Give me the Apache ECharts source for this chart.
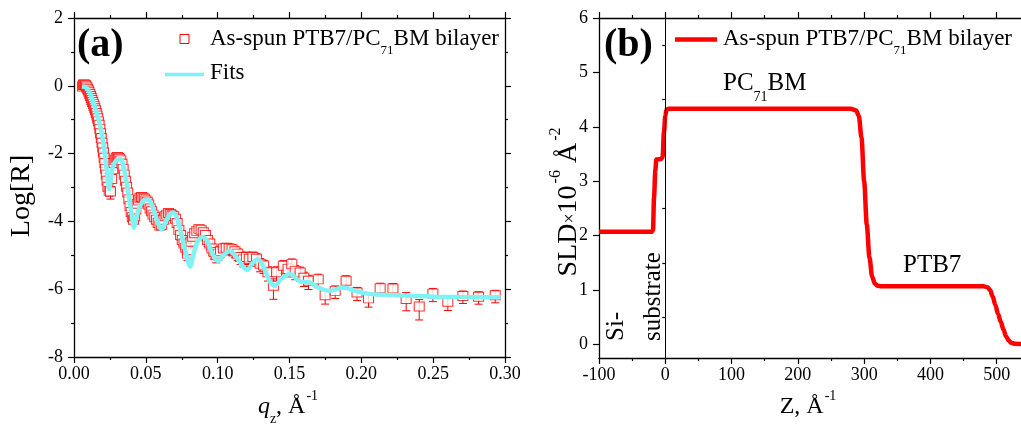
<!DOCTYPE html>
<html>
<head>
<meta charset="utf-8">
<script src="https://cdn.jsdelivr.net/npm/echarts@6/dist/echarts.min.js"></script>
<style>
  html, body { margin: 0; padding: 0; background: #fff; }
  #chart { width: 1021px; height: 425px; }
</style>
</head>
<body>
<div id="chart"></div>
<script>
// Reflectivity measurements: momentum transfer q_z (1/Å), log10(R), relative error of R
const qValues = [
  0.0060, 0.0065, 0.0070, 0.0075, 0.0080, 0.0085, 0.0090, 0.0095, 0.0100, 0.0105,
  0.0110, 0.0115, 0.0120, 0.0125, 0.0130, 0.0135, 0.0140, 0.0145, 0.0150, 0.0155,
  0.0160, 0.0165, 0.0170, 0.0175, 0.0180, 0.0185, 0.0190, 0.0195, 0.0200, 0.0205,
  0.0210, 0.0215, 0.0220, 0.0225, 0.0230, 0.0236, 0.0245, 0.0254, 0.0262, 0.0270,
  0.0278, 0.0286, 0.0294, 0.0302, 0.0310, 0.0318, 0.0326, 0.0334, 0.0342, 0.0350,
  0.0358, 0.0366, 0.0374, 0.0382, 0.0390, 0.0398, 0.0406, 0.0414, 0.0422, 0.0430,
  0.0440, 0.0450, 0.0460, 0.0470, 0.0480, 0.0490, 0.0500, 0.0510, 0.0520, 0.0530,
  0.0540, 0.0550, 0.0562, 0.0574, 0.0586, 0.0598, 0.0610, 0.0622, 0.0634, 0.0646,
  0.0658, 0.0670, 0.0682, 0.0694, 0.0706, 0.0718, 0.0730, 0.0742, 0.0754, 0.0766,
  0.0778, 0.0790, 0.0802, 0.0814, 0.0826, 0.0840, 0.0855, 0.0870, 0.0885, 0.0900,
  0.0915, 0.0930, 0.0945, 0.0960, 0.0975, 0.0990, 0.1005, 0.1020, 0.1040, 0.1060,
  0.1080, 0.1100, 0.1120, 0.1140, 0.1160, 0.1180, 0.1200, 0.1220, 0.1245, 0.1270,
  0.1295, 0.1320, 0.1350, 0.1388, 0.1410, 0.1457, 0.1490, 0.1516, 0.1540, 0.1574,
  0.1600, 0.1632, 0.1700, 0.1748, 0.1818, 0.1894, 0.1970, 0.2050, 0.2131, 0.2220,
  0.2312, 0.2403, 0.2498, 0.2602, 0.2707, 0.2816, 0.2932
];
const logR = [
  -0.02, 0.03, 0.04, 0.03, 0.02, -0.01, -0.05, -0.09, -0.14, -0.19,
  -0.24, -0.30, -0.36, -0.42, -0.48, -0.54, -0.60, -0.66, -0.72, -0.80,
  -0.88, -0.96, -1.05, -1.15, -1.27, -1.40, -1.54, -1.68, -1.82, -1.97,
  -2.12, -2.28, -2.45, -2.62, -2.80, -2.98, -3.10, -3.12, -2.75, -2.45,
  -2.28, -2.18, -2.12, -2.10, -2.12, -2.15, -2.20, -2.30, -2.45, -2.62,
  -2.80, -2.98, -3.15, -3.35, -3.55, -3.72, -3.88, -3.95, -3.85, -3.65,
  -3.48, -3.38, -3.30, -3.28, -3.30, -3.33, -3.38, -3.42, -3.50, -3.62,
  -3.70, -3.80, -3.88, -3.95, -4.05, -4.12, -4.10, -3.95, -3.85, -3.80,
  -3.75, -3.78, -3.82, -3.85, -3.92, -4.05, -4.25, -4.40, -4.55, -4.65,
  -4.78, -4.95, -4.85, -4.60, -4.45, -4.35, -4.28, -4.22, -4.25, -4.32,
  -4.40, -4.55, -4.65, -4.80, -4.90, -5.00, -4.95, -4.88, -4.80, -4.78,
  -4.80, -4.82, -4.88, -4.95, -5.05, -5.12, -5.05, -5.10, -5.05, -5.10,
  -5.25, -5.30, -5.50, -5.90, -5.50, -5.31, -5.40, -5.26, -5.46, -5.51,
  -5.66, -5.75, -5.71, -6.18, -6.05, -5.75, -6.10, -6.27, -5.97, -5.98,
  -6.29, -6.51, -6.13, -6.37, -6.20, -6.22, -6.18
];
const relErr = [
  0.03, 0.03, 0.03, 0.03, 0.03, 0.03, 0.03, 0.03, 0.03, 0.04,
  0.04, 0.04, 0.04, 0.04, 0.05, 0.05, 0.05, 0.05, 0.05, 0.05,
  0.06, 0.06, 0.06, 0.06, 0.06, 0.07, 0.07, 0.07, 0.08, 0.08,
  0.08, 0.09, 0.09, 0.10, 0.10, 0.12, 0.30, 0.40, 0.12, 0.10,
  0.10, 0.10, 0.10, 0.10, 0.10, 0.10, 0.10, 0.10, 0.12, 0.12,
  0.12, 0.14, 0.14, 0.15, 0.16, 0.18, 0.20, 0.22, 0.20, 0.18,
  0.16, 0.15, 0.15, 0.15, 0.15, 0.16, 0.16, 0.17, 0.18, 0.20,
  0.20, 0.22, 0.22, 0.24, 0.25, 0.26, 0.26, 0.25, 0.22, 0.22,
  0.22, 0.22, 0.24, 0.24, 0.25, 0.26, 0.28, 0.30, 0.32, 0.33,
  0.35, 0.38, 0.35, 0.32, 0.30, 0.30, 0.30, 0.30, 0.30, 0.32,
  0.33, 0.35, 0.35, 0.36, 0.38, 0.40, 0.38, 0.36, 0.35, 0.35,
  0.35, 0.36, 0.36, 0.38, 0.40, 0.40, 0.40, 0.40, 0.40, 0.40,
  0.42, 0.42, 0.45, 0.60, 0.45, 0.42, 0.42, 0.42, 0.45, 0.45,
  0.45, 0.45, 0.42, 0.45, 0.40, 0.40, 0.42, 0.45, 0.40, 0.40,
  0.55, 0.60, 0.42, 0.45, 0.40, 0.40, 0.40
];

// Model fit to the reflectivity
const fitQ = [
  0.0056, 0.0085, 0.0110, 0.0139, 0.0165, 0.0186, 0.0205, 0.0220, 0.0235, 0.0244,
  0.0255, 0.0270, 0.0295, 0.0325, 0.0350, 0.0380, 0.0405, 0.0418, 0.0430, 0.0460,
  0.0485, 0.0515, 0.0550, 0.0580, 0.0610, 0.0640, 0.0670, 0.0692, 0.0720, 0.0760,
  0.0795, 0.0808, 0.0830, 0.0860, 0.0895, 0.0930, 0.0970, 0.1005, 0.1040, 0.1086,
  0.1130, 0.1170, 0.1207, 0.1240, 0.1280, 0.1320, 0.1360, 0.1400, 0.1440, 0.1504,
  0.1550, 0.1580, 0.1640, 0.1700, 0.1780, 0.1875, 0.1960, 0.2040, 0.2150, 0.2270,
  0.2400, 0.2500, 0.2650, 0.2800, 0.2970
];
const fitLogR = [
  -0.02, -0.05, -0.20, -0.55, -0.90, -1.24, -1.70, -2.20, -2.75, -3.05,
  -2.80, -2.40, -2.20, -2.17, -2.50, -3.20, -3.90, -4.18, -3.95, -3.55,
  -3.38, -3.35, -3.60, -4.00, -4.24, -4.00, -3.78, -3.74, -3.95, -4.60,
  -5.20, -5.33, -5.00, -4.60, -4.45, -4.60, -5.00, -5.17, -5.00, -4.87,
  -5.05, -5.30, -5.43, -5.25, -5.12, -5.35, -5.75, -5.90, -5.70, -5.55,
  -5.70, -5.78, -5.80, -5.95, -6.05, -5.95, -6.05, -6.13, -6.16, -6.18,
  -6.20, -6.22, -6.23, -6.24, -6.24
];

// Scattering length density profile: depth Z (Å) and SLD (10^-6 Å^-2)
const zDepth = [
  -100, -20, -18.5, -17, -15, -13.5, -6, -4, -2, 0,
  2, 5, 280, 288, 292, 296, 300, 304, 308, 312,
  316, 320, 326, 480, 486, 490, 494, 498, 502, 506,
  510, 514, 518, 522, 528, 545
];
const sldValues = [
  2.07, 2.07, 2.10, 2.70, 3.20, 3.40, 3.41, 3.45, 3.90, 4.20,
  4.32, 4.33, 4.33, 4.30, 4.20, 3.80, 3.00, 2.20, 1.60, 1.25,
  1.12, 1.08, 1.07, 1.07, 1.05, 1.00, 0.88, 0.72, 0.56, 0.42,
  0.28, 0.15, 0.07, 0.03, 0.01, 0.00
];

// Axis tick positions for the SLD panel's value axis
const sldMajorTicks = [0, 1, 2, 3, 4, 5, 6];
const sldMinorTicks = [0.5, 1.5, 2.5, 3.5, 4.5, 5.5];

const RED = '#ff0000';
const CYAN = '#7ff3f3';
const SERIF = '"Liberation Serif", "DejaVu Serif", serif';

const points = qValues.map((q, i) => [q, logR[i]]);
const errBars = qValues.map((q, i) => [
  q, logR[i],
  logR[i] + Math.log10(1 + relErr[i]),
  logR[i] + Math.log10(1 - relErr[i])
]);
const fitLine = fitQ.map((q, i) => [q, fitLogR[i]]);
const sldLine = zDepth.map((z, i) => [z, sldValues[i]]);

const labelStyle = { color: '#000', fontFamily: SERIF, fontSize: 18 };
const lineStyle = { lineStyle: { color: '#000', width: 1.3 } };
const majorTick = { show: true, length: 6, lineStyle: { color: '#000', width: 1.2 } };
const minorTick = { show: true, splitNumber: 2, length: 3, lineStyle: { color: '#000', width: 1.2 } };

function frameAxis(extra) {
  return Object.assign({
    axisLine: Object.assign({ show: true, onZero: false }, lineStyle),
    axisTick: majorTick,
    minorTick: minorTick,
    axisLabel: { show: false },
    splitLine: { show: false }
  }, extra);
}

const chart = echarts.init(document.getElementById('chart'), null, { renderer: 'canvas' });

chart.setOption({
  animation: false,
  backgroundColor: '#fff',
  grid: [
    { left: 74, top: 18, width: 431, height: 339, outerBoundsMode: 'none', containLabel: false },
    { left: 599, top: 18, width: 464, height: 340, outerBoundsMode: 'none', containLabel: false },
    { left: 599, top: 18, width: 464, height: 340, outerBoundsMode: 'none', containLabel: false }
  ],
  xAxis: [
    frameAxis({
      gridIndex: 0, type: 'value', position: 'bottom', min: 0, max: 0.3, interval: 0.05,
      axisLabel: Object.assign({ show: true, margin: 8, formatter: v => v.toFixed(2) }, labelStyle)
    }),
    frameAxis({ gridIndex: 0, type: 'value', position: 'top', min: 0, max: 0.3, interval: 0.05 }),
    frameAxis({
      gridIndex: 1, type: 'value', position: 'bottom', min: -100, max: 600, interval: 100,
      axisLabel: Object.assign({ show: true, margin: 8 }, labelStyle)
    }),
    frameAxis({ gridIndex: 1, type: 'value', position: 'top', min: -100, max: 600, interval: 100 }),
    { gridIndex: 2, type: 'value', min: -100, max: 600, show: false }
  ],
  yAxis: [
    frameAxis({
      gridIndex: 0, type: 'value', position: 'left', min: -8, max: 2, interval: 2,
      axisLabel: Object.assign({ show: true, margin: 11 }, labelStyle)
    }),
    frameAxis({ gridIndex: 0, type: 'value', position: 'right', min: -8, max: 2, interval: 2 }),
    {
      gridIndex: 1, type: 'value', position: 'left', min: -0.25, max: 6,
      axisLine: Object.assign({ show: true, onZero: false }, lineStyle),
      axisTick: Object.assign({ customValues: sldMajorTicks }, majorTick),
      axisLabel: Object.assign({ show: true, margin: 11, customValues: sldMajorTicks }, labelStyle),
      splitLine: { show: false }
    },
    {
      gridIndex: 2, type: 'value', position: 'left', min: -0.25, max: 6,
      axisLine: { show: false },
      axisTick: { show: true, length: 3, customValues: sldMinorTicks, lineStyle: { color: '#000', width: 1.2 } },
      axisLabel: { show: false },
      splitLine: { show: false }
    }
  ],
  series: [
    {
      name: 'error',
      type: 'custom',
      xAxisIndex: 0, yAxisIndex: 0,
      z: 1,
      data: errBars,
      renderItem: function (params, api) {
        const x = api.value(0);
        const top = api.coord([x, api.value(2)]);
        const bot = api.coord([x, api.value(3)]);
        const cap = 4;
        const st = { stroke: RED, lineWidth: 1 };
        return {
          type: 'group',
          children: [
            { type: 'line', shape: { x1: top[0], y1: top[1], x2: bot[0], y2: bot[1] }, style: st },
            { type: 'line', shape: { x1: top[0] - cap, y1: top[1], x2: top[0] + cap, y2: top[1] }, style: st },
            { type: 'line', shape: { x1: bot[0] - cap, y1: bot[1], x2: bot[0] + cap, y2: bot[1] }, style: st }
          ]
        };
      }
    },
    {
      name: 'As-spun PTB7/PC71BM bilayer',
      type: 'scatter',
      xAxisIndex: 0, yAxisIndex: 0,
      z: 2,
      symbol: 'rect',
      symbolSize: [10, 9],
      itemStyle: { color: '#fff', borderColor: RED, borderWidth: 1 },
      data: points
    },
    {
      name: 'Fits',
      type: 'line',
      xAxisIndex: 0, yAxisIndex: 0,
      z: 3,
      showSymbol: false,
      smooth: 0.3,
      lineStyle: { color: CYAN, width: 4.5 },
      data: fitLine
    },
    {
      name: 'SLD',
      type: 'line',
      xAxisIndex: 2, yAxisIndex: 2,
      z: 3,
      showSymbol: false,
      smooth: 0.3,
      smoothMonotone: 'x',
      lineStyle: { color: RED, width: 4.5 },
      data: sldLine,
      markLine: {
        silent: true,
        symbol: ['none', 'none'],
        label: { show: false },
        lineStyle: { color: '#000', width: 1, type: 'solid' },
        data: [{ xAxis: 0 }]
      }
    }
  ],
  graphic: [
    // panel tags
    { type: 'text', x: 77, y: 45.5, style: { text: '(a)', font: 'bold 40px ' + SERIF, fill: '#000', textVerticalAlign: 'middle' } },
    { type: 'text', x: 604, y: 45.5, style: { text: '(b)', font: 'bold 40px ' + SERIF, fill: '#000', textVerticalAlign: 'middle' } },

    // legend of panel (a)
    { type: 'rect', shape: { x: 180, y: 34.5, width: 9, height: 9 }, style: { fill: '#fff', stroke: RED, lineWidth: 1 } },
    {
      type: 'text', x: 210, y: 27,
      style: {
        text: '{n|As-spun PTB7/PC}{s|71}{n|BM bilayer}', textVerticalAlign: 'top', fill: '#000',
        rich: {
          n: { fontFamily: SERIF, fontSize: 23, verticalAlign: 'top', padding: [0, 0, 0, 0] },
          s: { fontFamily: SERIF, fontSize: 13, verticalAlign: 'top', padding: [17, 0, 0, 0] }
        }
      }
    },
    { type: 'line', shape: { x1: 165, y1: 74.5, x2: 204, y2: 74.5 }, style: { stroke: CYAN, lineWidth: 3.5 } },
    { type: 'text', x: 210, y: 72.5, style: { text: 'Fits', font: '23px ' + SERIF, fill: '#000', textVerticalAlign: 'middle' } },

    // legend of panel (b)
    { type: 'line', shape: { x1: 675, y1: 39.5, x2: 717, y2: 39.5 }, style: { stroke: RED, lineWidth: 4.5 } },
    {
      type: 'text', x: 723, y: 27,
      style: {
        text: '{n|As-spun PTB7/PC}{s|71}{n|BM bilayer}', textVerticalAlign: 'top', fill: '#000',
        rich: {
          n: { fontFamily: SERIF, fontSize: 23, verticalAlign: 'top', padding: [0, 0, 0, 0] },
          s: { fontFamily: SERIF, fontSize: 13, verticalAlign: 'top', padding: [17, 0, 0, 0] }
        }
      }
    },

    // layer annotations
    {
      type: 'text', x: 723, y: 71,
      style: {
        text: '{n|PC}{s|71}{n|BM}', textVerticalAlign: 'top', fill: '#000',
        rich: {
          n: { fontFamily: SERIF, fontSize: 25, verticalAlign: 'top' },
          s: { fontFamily: SERIF, fontSize: 14, verticalAlign: 'top', padding: [19, 0, 0, 0] }
        }
      }
    },
    { type: 'text', x: 903, y: 265, style: { text: 'PTB7', font: '25px ' + SERIF, fill: '#000', textVerticalAlign: 'middle' } },
    { type: 'text', x: 616, y: 341, rotation: Math.PI / 2, style: { text: 'Si-', font: '25px ' + SERIF, fill: '#000', textAlign: 'left', textVerticalAlign: 'middle' } },
    { type: 'text', x: 653, y: 341, rotation: Math.PI / 2, style: { text: 'substrate', font: '25px ' + SERIF, fill: '#000', textAlign: 'left', textVerticalAlign: 'middle' } },

    // axis titles
    { type: 'text', x: 22, y: 196, rotation: Math.PI / 2, style: { text: 'Log[R]', font: '28px ' + SERIF, fill: '#000', textAlign: 'center', textVerticalAlign: 'middle' } },
    {
      type: 'text', x: 288, y: 389,
      style: {
        text: '{q|q}{s|z}{n|, Å}{p|-1}', textAlign: 'center', textVerticalAlign: 'top', fill: '#000',
        rich: {
          q: { fontFamily: SERIF, fontStyle: 'italic', fontSize: 24, verticalAlign: 'top', padding: [6, 0, 0, 0] },
          n: { fontFamily: SERIF, fontSize: 24, verticalAlign: 'top', padding: [6, 0, 0, 0] },
          s: { fontFamily: SERIF, fontSize: 14, verticalAlign: 'top', padding: [23, 0, 0, 0] },
          p: { fontFamily: SERIF, fontSize: 14, verticalAlign: 'top', padding: [0, 0, 0, 1] }
        }
      }
    },
    {
      type: 'text', x: 808, y: 389,
      style: {
        text: '{n|Z, Å}{p|-1}', textAlign: 'center', textVerticalAlign: 'top', fill: '#000',
        rich: {
          n: { fontFamily: SERIF, fontSize: 24, verticalAlign: 'top', padding: [6, 0, 0, 0] },
          p: { fontFamily: SERIF, fontSize: 14, verticalAlign: 'top', padding: [0, 0, 0, 1] }
        }
      }
    },
    {
      type: 'text', x: 548, y: 202, rotation: Math.PI / 2,
      style: {
        text: '{n|SLD}{m|×}{n|10}{p|-6}{n| Å}{p|-2}', textAlign: 'center', textVerticalAlign: 'top', fill: '#000',
        rich: {
          n: { fontFamily: SERIF, fontSize: 28, verticalAlign: 'top', padding: [7, 0, 0, 0] },
          m: { fontFamily: SERIF, fontSize: 18, verticalAlign: 'top', padding: [13, 0, 0, 0] },
          p: { fontFamily: SERIF, fontSize: 16, verticalAlign: 'top', padding: [0, 0, 0, 2] }
        }
      }
    }
  ]
});
</script>
</body>
</html>
